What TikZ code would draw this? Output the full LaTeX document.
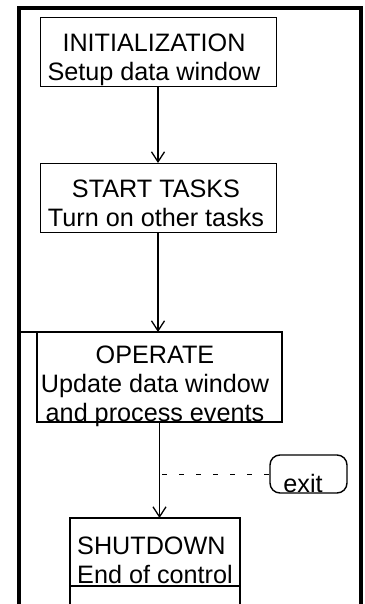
\documentclass[tikz,border=0pt]{standalone}
\usepackage{fontspec}
\setmainfont{Liberation Sans}
\usetikzlibrary{arrows.meta,calc,positioning}

\tikzset{
  stage/.style={draw, line width=1pt, inner sep=0pt, outer sep=0pt},
  heavystage/.style={stage, line width=1.8pt},
  caption/.style={inner sep=0pt, align=center, font=\fontsize{25.2}{29}\selectfont},
  flow/.style={-{Straight Barb[length=10pt,width=13pt,line width=1.3pt]}, line width=1.4pt},
  frameline/.style={line width=4pt},
}

\begin{document}
\begin{tikzpicture}[x=1pt,y=-1pt]
                    \useasboundingbox (0,0) rectangle (364,604);
                    \draw[frameline] (19,606) -- (19,8.5) -- (361,8.5) -- (361,606);

                    \node (init) at (158,52.5) [stage, minimum width=236pt, minimum height=69pt] {};
                    \node (start) at (158,197.5) [stage, minimum width=236pt, minimum height=69pt] {};
                    \node (operate) at (159.5,377) [heavystage, minimum width=245pt, minimum height=90pt] {};
                    \node (shutdown) at (155,552) [heavystage, minimum width=170pt, minimum height=68pt] {};
                    \node (shutrest) [heavystage, minimum width=170pt, minimum height=40pt, below=0pt of shutdown] {};
                    \node (exit) at (308.5,474) [stage, rounded corners=10pt, line width=1.4pt,
                                                 minimum width=77pt, minimum height=38pt] {};

                    % base anchor sits on the last line
                    \node (initlabel) at (154,81) [caption, anchor=base] {INITIALIZATION\\Setup data window};
                    \node (startlabel) at (156,226) [caption, anchor=base] {START TASKS\\Turn on other tasks};
                    \node (operatelabel) at (155,421) [caption, anchor=base] {OPERATE\\Update data window\\and process events};
                    \node (shutlabel) at (77,583) [caption, align=left, anchor=base west] {SHUTDOWN\\End of control};
                    \node (exitlabel) at (303,492) [caption, anchor=base] {exit};

                    \coordinate (ledge) at (19,332);
                    \coordinate (tap) at (162,474);
                    \draw[line width=2pt] (ledge) -- (operate.north west);
                    \draw[line width=1pt, dash pattern=on 5pt off 12pt] (tap) -- (exit.west);

                    \foreach \Source/\Target in {%
                        init/start,
                        start/operate,
                        operate/shutdown%
                        }
                        \draw[flow] (\Source.south) -- (\Source.south |- \Target.north);
                \end{tikzpicture}
\end{document}
